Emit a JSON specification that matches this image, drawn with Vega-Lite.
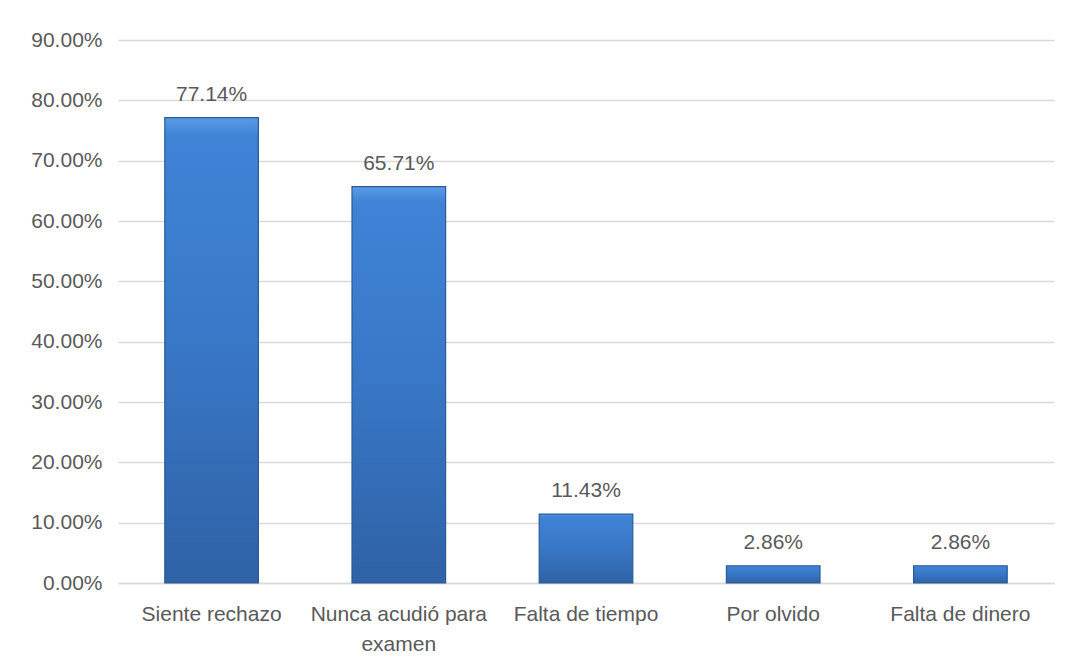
{
  "$schema": "https://vega.github.io/schema/vega-lite/v6.json",
  "width": 936,
  "height": 543,
  "autosize": {"type": "none"},
  "padding": {"left": 118, "top": 40, "right": 21, "bottom": 84},
  "background": "white",
  "data": {
    "values": [
      {"motivo": "Siente rechazo", "pct": 0.7714},
      {"motivo": "Nunca acudió para examen", "pct": 0.6571},
      {"motivo": "Falta de tiempo", "pct": 0.1143},
      {"motivo": "Por olvido", "pct": 0.0286},
      {"motivo": "Falta de dinero", "pct": 0.0286}
    ]
  },
  "encoding": {
    "x": {
      "field": "motivo",
      "type": "nominal",
      "sort": null,
      "scale": {"paddingInner": 0.5, "paddingOuter": 0.25},
      "axis": {
        "title": null,
        "labelAngle": 0,
        "ticks": false,
        "domainColor": "#d9d9d9",
        "domainWidth": 1.5,
        "labelPadding": 20,
        "labelFont": "Liberation Sans",
        "labelFontSize": 21,
        "labelColor": "#595959",
        "labelLineHeight": 30,
        "labelExpr": "datum.label == 'Nunca acudió para examen' ? ['Nunca acudió para', 'examen'] : datum.label"
      }
    },
    "y": {
      "field": "pct",
      "type": "quantitative",
      "scale": {"domain": [0, 0.9], "nice": false},
      "axis": {
        "title": null,
        "values": [0, 0.1, 0.2, 0.3, 0.4, 0.5, 0.6, 0.7, 0.8, 0.9],
        "format": ".2%",
        "domain": false,
        "ticks": false,
        "gridColor": "#d9d9d9",
        "gridWidth": 1.5,
        "labelPadding": 16,
        "labelFont": "Liberation Sans",
        "labelFontSize": 21,
        "labelColor": "#595959"
      }
    }
  },
  "layer": [
    {
      "mark": {
        "type": "bar",
        "stroke": "#2b5a94",
        "strokeWidth": 1.2,
        "color": {
          "gradient": "linear",
          "x1": 0, "y1": 0, "x2": 0, "y2": 1,
          "stops": [
            {"offset": 0, "color": "#5a9be6"},
            {"offset": 0.04, "color": "#3f83d6"},
            {"offset": 0.5, "color": "#3877c6"},
            {"offset": 1, "color": "#2f62a6"}
          ]
        }
      }
    },
    {
      "mark": {
        "type": "text",
        "baseline": "bottom",
        "dy": -13,
        "font": "Liberation Sans",
        "fontSize": 21,
        "color": "#595959"
      },
      "encoding": {
        "text": {"field": "pct", "type": "quantitative", "format": ".2%"}
      }
    }
  ],
  "config": {
    "view": {"stroke": null}
  }
}
